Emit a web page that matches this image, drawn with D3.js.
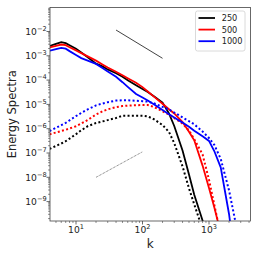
<!DOCTYPE html>
<html>
<head>
<meta charset="utf-8">
<script src="https://cdn.jsdelivr.net/npm/d3@7.9.0/dist/d3.min.js"></script>
<style>
  html, body { margin: 0; padding: 0; background: #fff; }
  svg { display: block; font-family: "DejaVu Sans", sans-serif; }
</style>
</head>
<body>
<div id="chart"></div>
<script>
// wavenumbers shared by all series
const kGrid = [4, 5, 6, 7, 8, 10, 12, 15, 20, 25, 30, 40, 50, 60, 80, 100, 120, 150,
  200, 250, 300, 400, 500, 600, 800, 1000, 1200, 1500, 2000, 2500, 3000];

// log10 of the energy spectra
const solid250 = [-2.597, -2.506, -2.436, -2.481, -2.568, -2.712, -2.864, -3.058, -3.321, -3.436,
  -3.560, -3.720, -3.860, -4.004, -4.210, -4.366, -4.49, -4.671, -4.926, -5.366, -5.889, -6.897,
  -7.885, -8.716, -9.778, -10.6];
const dotted250 = [-6.831, -6.708, -6.609, -6.514, -6.407, -6.226, -6.062, -5.897, -5.765, -5.700,
  -5.646, -5.560, -5.465, -5.465, -5.465, -5.465, -5.494, -5.617, -5.848, -6.132, -6.593, -7.551,
  -8.453, -9.115, -10.13];
const solid500 = [-2.654, -2.588, -2.535, -2.564, -2.646, -2.778, -2.889, -3.024, -3.198, -3.354,
  -3.481, -3.654, -3.802, -3.922, -4.111, -4.288, -4.469, -4.691, -4.975, -5.198, -5.374, -5.728,
  -6.128, -6.477, -7.519, -8.444, -9.230, -10.29];
const dotted500 = [-6.230, -6.156, -6.095, -6.045, -5.992, -5.897, -5.786, -5.638, -5.416, -5.284,
  -5.202, -5.111, -5.070, -5.049, -5.033, -5.025, -5.025, -5.111, -5.284, -5.416, -5.556, -5.790,
  -6.074, -6.432, -7.058, -8.099, -9.123, -10.37];
const solid1000 = [-2.794, -2.728, -2.671, -2.708, -2.807, -2.963, -3.095, -3.198, -3.333, -3.506,
  -3.642, -3.864, -4.086, -4.276, -4.568, -4.716, -4.840, -5.004, -5.230, -5.407, -5.543, -5.749,
  -5.922, -6.082, -6.313, -6.502, -6.918, -7.588, -9.510, -11.5];
const dotted1000 = [-6.095, -5.963, -5.856, -5.758, -5.654, -5.481, -5.350, -5.202, -5.041, -4.963,
  -4.909, -4.844, -4.827, -4.827, -4.852, -4.868, -4.885, -4.959, -5.103, -5.214, -5.333, -5.535,
  -5.691, -5.819, -6.115, -6.383, -6.663, -7.239, -8.535, -9.84, -11.0];

// guide lines (k, E)
const slopeK = [40, 200];
const slopeE = [1.15e-2, 7.9e-4];
const riseK = [20, 100];
const riseE = [1.0e-8, 1.12e-7];

const legendLabels = ["250", "500", "1000"];
const colors = ["#000000", "#ff0000", "#0000ff"];
const xTicks = [10, 100, 1000];
const yTicks = [1e-9, 1e-8, 1e-7, 1e-6, 1e-5, 1e-4, 1e-3, 1e-2];

const W = 258, H = 258;
const pLeft = 50, pRight = 250.5, pTop = 7.5, pBottom = 221;

const x = d3.scaleLog().domain([10 ** 0.609, 10 ** 3.624]).range([pLeft, pRight]);
const y = d3.scaleLog().domain([10 ** -9.798, 10 ** -1.012]).range([pBottom, pTop]);

const svg = d3.select("#chart").append("svg")
  .attr("width", W).attr("height", H);

svg.append("clipPath").attr("id", "plot")
  .append("rect").attr("x", pLeft).attr("y", pTop)
  .attr("width", pRight - pLeft).attr("height", pBottom - pTop);

const line = d3.line().x(d => x(d[0])).y(d => y(d[1]));
const toPoints = logs => logs.map((v, i) => [kGrid[i], 10 ** v]);

const series = [
  { logs: solid250, color: colors[0], dotted: false },
  { logs: dotted250, color: colors[0], dotted: true },
  { logs: solid500, color: colors[1], dotted: false },
  { logs: dotted500, color: colors[1], dotted: true },
  { logs: solid1000, color: colors[2], dotted: false },
  { logs: dotted1000, color: colors[2], dotted: true }
];

const g = svg.append("g").attr("clip-path", "url(#plot)");

g.selectAll("path.series")
  .data(series)
  .join("path")
  .attr("class", "series")
  .attr("d", d => line(toPoints(d.logs)))
  .attr("fill", "none")
  .attr("stroke", d => d.color)
  .attr("stroke-width", d => d.dotted ? 2 : 1.8)
  .attr("stroke-dasharray", d => d.dotted ? "2,2.3" : null);

g.append("path")
  .attr("d", line(slopeK.map((k, i) => [k, slopeE[i]])))
  .attr("fill", "none").attr("stroke", "#111").attr("stroke-width", 0.8);

g.append("path")
  .attr("d", line(riseK.map((k, i) => [k, riseE[i]])))
  .attr("fill", "none").attr("stroke", "#444").attr("stroke-width", 0.8)
  .attr("stroke-dasharray", "0.8,0.8");

// frame
svg.append("rect")
  .attr("x", pLeft).attr("y", pTop)
  .attr("width", pRight - pLeft).attr("height", pBottom - pTop)
  .attr("fill", "none").attr("stroke", "#444").attr("stroke-width", 0.8);

// minor ticks
const minorX = [];
for (let e = 0; e <= 3; e++) for (let m = 2; m <= 9; m++) {
  const v = m * 10 ** e;
  if (x(v) >= pLeft && x(v) <= pRight) minorX.push(v);
}
const minorY = [];
for (let e = -10; e <= -1; e++) for (let m = 2; m <= 9; m++) {
  const v = m * 10 ** e;
  if (y(v) >= pTop && y(v) <= pBottom) minorY.push(v);
}

svg.append("g").selectAll("line").data(minorX).join("line")
  .attr("x1", d => x(d)).attr("x2", d => x(d))
  .attr("y1", pBottom).attr("y2", pBottom + 2)
  .attr("stroke", "#444").attr("stroke-width", 0.6);
svg.append("g").selectAll("line").data(minorY).join("line")
  .attr("y1", d => y(d)).attr("y2", d => y(d))
  .attr("x1", pLeft).attr("x2", pLeft - 2)
  .attr("stroke", "#444").attr("stroke-width", 0.6);

// major ticks + labels
svg.append("g").selectAll("line").data(xTicks).join("line")
  .attr("x1", d => x(d)).attr("x2", d => x(d))
  .attr("y1", pBottom).attr("y2", pBottom + 3.5)
  .attr("stroke", "#444").attr("stroke-width", 0.8);
svg.append("g").selectAll("line").data(yTicks).join("line")
  .attr("y1", d => y(d)).attr("y2", d => y(d))
  .attr("x1", pLeft).attr("x2", pLeft - 3.5)
  .attr("stroke", "#444").attr("stroke-width", 0.8);

const xLab = svg.append("g").selectAll("text").data(xTicks).join("text")
  .attr("x", d => x(d)).attr("y", 233.3)
  .attr("text-anchor", "middle").attr("font-size", 9.2).attr("fill", "#222");
xLab.append("tspan").text("10");
xLab.append("tspan").attr("dy", -4).attr("font-size", 6.6)
  .text(d => Math.round(Math.log10(d)));

const yLab = svg.append("g").selectAll("text").data(yTicks).join("text")
  .attr("x", 46.7).attr("y", d => y(d) + 3.3)
  .attr("text-anchor", "end").attr("font-size", 9.2).attr("fill", "#222");
yLab.append("tspan").text("10");
yLab.append("tspan").attr("dy", -4).attr("font-size", 6.6)
  .text(d => "\u2212" + Math.abs(Math.round(Math.log10(d))));

// axis titles
svg.append("text")
  .attr("x", (pLeft + pRight) / 2).attr("y", 248.3)
  .attr("text-anchor", "middle").attr("font-size", 12).attr("fill", "#222")
  .text("k");
svg.append("text")
  .attr("transform", `translate(16,${(pTop + pBottom) / 2}) rotate(-90)`)
  .attr("text-anchor", "middle").attr("font-size", 11.5).attr("fill", "#222")
  .text("Energy Spectra");

// legend
const legend = svg.append("g");
legend.append("rect")
  .attr("x", 195.5).attr("y", 11).attr("width", 49.5).attr("height", 40)
  .attr("rx", 2).attr("fill", "#fff").attr("fill-opacity", 0.8)
  .attr("stroke", "#d0d0d0").attr("stroke-width", 0.8);
const rows = legend.selectAll("g").data(legendLabels).join("g")
  .attr("transform", (d, i) => `translate(0,${18 + i * 11.6})`);
rows.append("line")
  .attr("x1", 198.5).attr("x2", 215)
  .attr("stroke", (d, i) => colors[i]).attr("stroke-width", 1.8);
rows.append("text")
  .attr("x", 221.7).attr("y", 2.9)
  .attr("font-size", 8.2).attr("fill", "#222")
  .text(d => d);
</script>
</body>
</html>
